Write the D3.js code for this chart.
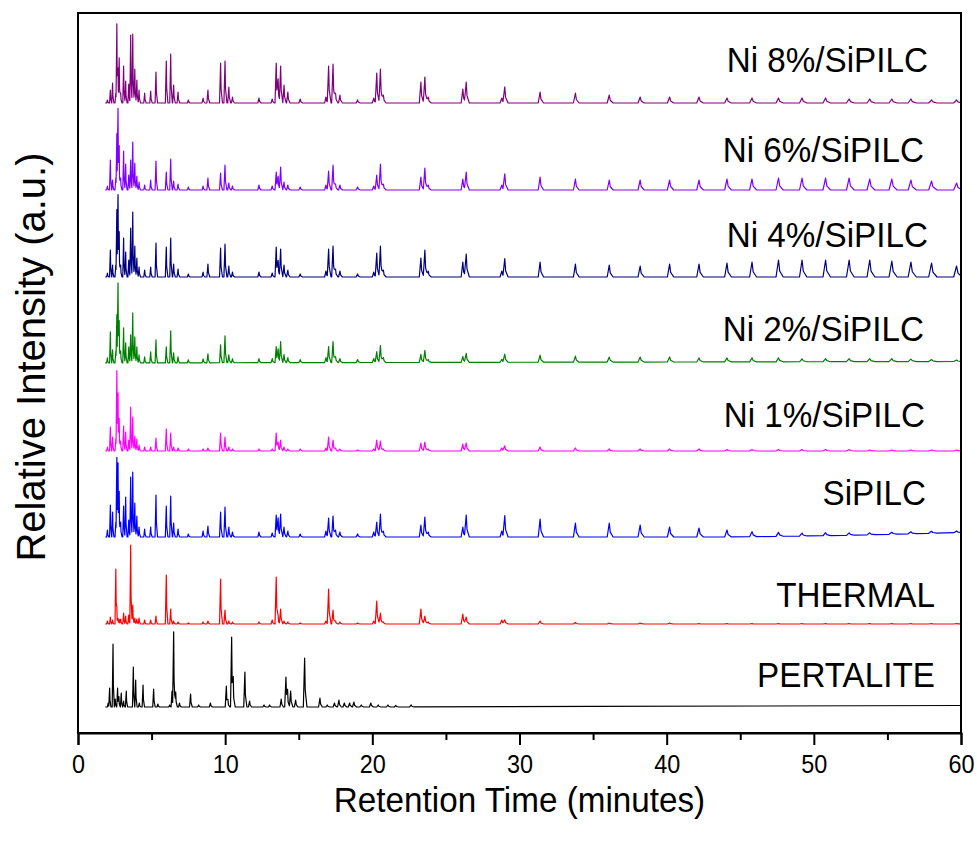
<!DOCTYPE html>
<html><head><meta charset="utf-8">
<script src="https://cdn.jsdelivr.net/npm/d3@7"></script>
<style>
html,body{margin:0;padding:0;background:#fff;}
text{font-family:"Liberation Sans",Arial,sans-serif;fill:#000;}
</style></head>
<body><svg id="chart" width="977" height="842"></svg>
<script>
// ---------- DATA ----------
const seriesNames = ["Ni 8%/SiPILC","Ni 6%/SiPILC","Ni 4%/SiPILC","Ni 2%/SiPILC","Ni 1%/SiPILC","SiPILC","THERMAL","PERTALITE"];
const seriesColors = ["#800080","#8000ff","#000080","#008000","#ff00ff","#0000ff","#ff0000","#000000"];
const seriesOffsets = [630, 543, 456, 370, 282, 196, 109, 26];

// shared peak retention times (minutes) for catalyst / thermal runs
const peakTimes = [2.0,2.2,2.35,2.57,2.64,2.72,2.8,2.9,3.1,3.24,3.45,3.58,3.72,3.86,4.0,4.15,4.53,4.94,5.3,6.0,6.3,6.5,6.8,7.5,8.5,8.83,9.69,9.99,10.25,10.5,12.3,13.2,13.47,13.6,13.77,14.0,14.26,15.1,16.85,17.03,17.33,17.5,17.8,19.0,20.1,20.3,20.55,20.75,23.3,23.57,23.8,26.15,26.38,28.8,29.0,31.4,33.8,36.1,38.2,40.2,42.2,44.1,45.8,47.6,49.2,50.8,52.4,53.8,55.3,56.6,58.0,59.7];

const ni8Heights  = [3,13,20,10,78,30,43,10,37,22,19,68,69,34,23,13,10,12,31,42,49,18,11,3,5,13,40,42,16,6,5,4,40,22,37,18,11,4,6,37,39,10,8,3,5,30,34,8,21,26,6,14,21,5,16,11,10,8,6,6,6,5,5,5,5,5,4,4,4,4,3,3];
const ni6Heights  = [4,30,10,12,55,78,39,12,39,26,15,30,48,27,14,8,5,10,29,18,31,9,6,3,4,12,17,25,7,4,5,4,18,13,23,8,5,3,5,19,25,6,5,3,4,15,26,6,13,22,5,11,18,5,16,13,11,10,10,10,10,11,11,12,12,12,12,11,11,10,9,7];
const ni4Heights  = [4,27,12,12,66,78,40,12,39,25,17,49,65,31,19,10,7,10,34,30,39,13,8,3,5,13,29,33,11,5,5,4,30,15,28,12,7,3,6,28,31,8,6,3,5,24,31,7,19,27,6,15,23,6,18,15,13,12,11,13,13,14,15,17,17,17,17,17,16,15,14,11];
const ni2Heights  = [5,31,13,12,47,77,37,12,35,20,16,28,50,26,16,8,6,11,23,16,32,10,6,3,4,9,18,27,8,4,4,4,16,13,21,8,5,3,5,16,21,6,4,3,4,11,17,5,8,12,3,6,9,3,8,7,6,5,5,5,4,4,4,4,3,3,3,3,3,2.5,2,1.5];
const ni1Heights  = [4,24,14,12,79,53,29,10,25,19,11,44,34,15,12,6,4,4,13,22,18,4,3,2,2,3,18,14,4,2,2,2,18,8,11,4,2,2,3,14,11,3,2,1,2,11,10,2,8,9,2,7,8,3,5,4,3,2,2,2,2,1.5,1.5,1.5,1.5,1.5,1.5,1,1,1,1,1];
const siHeights   = [7,32,25,15,78,69,41,15,31,40,17,60,65,34,21,10,8,10,42,31,41,14,8,3,6,11,25,30,10,5,5,4,22,18,23,10,6,3,6,19,21,7,5,3,5,15,23,6,12,20,5,10,22,6,21,18,14,14,12,10,9,7,5,4,3,3,2.5,2,2,2,2,1.5];
const thermalHeights = [3,7,4,55,11,5,4,5,11,8,9,79,19,6,5,6,4,4,8,49,15,3,2,1,2,3,45,14,3,2,2,4,47,6,15,3,2,1,3,35,14,3,2,1,3,23,11,2,15,8,2,10,7,4,4,3,1.5,1,1,1,0.5,0.5,0.5,0.5,0.5,0.5,0.5,0.5,0.5,0.5,0.5,0.5];

// PERTALITE (gasoline) has its own peaks
const pertTimes = [2.05,2.15,2.38,2.53,2.69,2.78,2.94,3.1,3.28,3.76,3.92,4.17,4.42,5.14,5.43,6.23,6.39,6.5,6.64,6.9,7.65,8.2,9.0,10.08,10.19,10.44,10.55,11.34,11.66,12.64,13.02,13.81,14.13,14.24,14.45,14.79,15.4,16.44,16.94,17.43,17.73,18.1,18.46,18.75,19.25,19.9,20.4,21.06,21.6,22.64];
const pertHeights = [4,19,63,8,19,10,14,6,16,40,27,4,22,18,3,2,16,75,15,4,13,2,4,21,6,70,25,35,6,2,2,8,30,14,16,7,49,9,2,4,7,4,4,5,2,4,2,2,1.5,2];

// baseline drift knots (time, intensity)
const siDriftTimes = [0,44,52,60];   const siDriftValues = [0,0,1.5,4.5];
const pertDriftTimes = [0,22,35,60]; const pertDriftValues = [0,0,0.6,1.5];
const ni2DriftTimes = [0,60];        const ni2DriftValues = [0,1.5];
const flatDriftTimes = [0,60];       const flatDriftValues = [0,0];

const xTicks = [0,10,20,30,40,50,60];
const xMinorTicks = [5,15,25,35,45,55];

// ---------- LAYOUT ----------
const svg = d3.select("#chart");
const L = 78, R = 961, T = 13, B = 733;
const x = d3.scaleLinear().domain([0,60]).range([L,R]);
const y = d3.scaleLinear().domain([0,720]).range([B,T]);

const seriesData = [
  {times: peakTimes, heights: ni8Heights, dT: flatDriftTimes, dV: flatDriftValues},
  {times: peakTimes, heights: ni6Heights, dT: flatDriftTimes, dV: flatDriftValues},
  {times: peakTimes, heights: ni4Heights, dT: flatDriftTimes, dV: flatDriftValues},
  {times: peakTimes, heights: ni2Heights, dT: ni2DriftTimes, dV: ni2DriftValues},
  {times: peakTimes, heights: ni1Heights, dT: flatDriftTimes, dV: flatDriftValues},
  {times: peakTimes, heights: siHeights, dT: siDriftTimes, dV: siDriftValues},
  {times: peakTimes, heights: thermalHeights, dT: flatDriftTimes, dV: flatDriftValues},
  {times: pertTimes, heights: pertHeights, dT: pertDriftTimes, dV: pertDriftValues}
];

// peak outline vertices (piecewise linear, slightly tailing)
function peakShape(t, h) {
  const wl = 0.05 + 0.0025 * t, wr = 0.08 + 0.005 * t;
  return [[t - wl, 0], [t, h], [t + wr * 0.25, h * 0.35], [t + wr, 0]];
}
function evalShape(shape, tt) {
  if (tt <= shape[0][0] || tt >= shape[shape.length-1][0]) return 0;
  for (let i = 0; i < shape.length - 1; i++) {
    const a = shape[i], b = shape[i+1];
    if (tt >= a[0] && tt <= b[0]) return a[1] + (b[1]-a[1]) * (tt - a[0]) / (b[0]-a[0]);
  }
  return 0;
}
function buildPoints(s) {
  const shapes = s.times.map((t,i) => peakShape(t, s.heights[i]));
  let verts = [1.85, 60];
  shapes.forEach(sh => sh.forEach(p => verts.push(p[0])));
  s.dT.forEach(t => verts.push(t));
  verts = Array.from(new Set(verts.filter(v => v >= 1.85 && v <= 60))).sort((a,b)=>a-b);
  const drift = d3.scaleLinear().domain(s.dT).range(s.dV);
  return verts.map(t => [t, drift(t) + d3.sum(shapes, sh => evalShape(sh, t))]);
}

const line = d3.line().x(d => x(d[0]));
seriesData.forEach((s, i) => {
  const pts = buildPoints(s);
  svg.append("path")
    .attr("d", line.y(d => y(seriesOffsets[i] + d[1]))(pts))
    .attr("fill", "none")
    .attr("stroke", seriesColors[i])
    .attr("stroke-width", 1.2)
    .attr("stroke-linejoin", "round");
});

// frame
svg.append("rect").attr("x", L).attr("y", T).attr("width", R-L).attr("height", B-T)
  .attr("fill","none").attr("stroke","#000").attr("stroke-width",2);

// x axis
const xAxis = d3.axisBottom(x).tickValues(xTicks).tickSize(12).tickPadding(10).tickFormat(d3.format("d"));
const gx = svg.append("g").attr("transform", `translate(0,${B})`).call(xAxis);
gx.select(".domain").attr("stroke-width", 2);
gx.selectAll(".tick line").attr("stroke-width", 2);
gx.selectAll(".tick text").attr("font-size", 26).attr("font-family", '"Liberation Sans",Arial,sans-serif')
  .attr("fill","#000").attr("transform","scale(0.9,1)");
const gm = svg.append("g").attr("transform", `translate(0,${B})`)
  .call(d3.axisBottom(x).tickValues(xMinorTicks).tickSize(7).tickFormat(""));
gm.select(".domain").remove();
gm.selectAll(".tick line").attr("stroke-width", 2);

// axis titles
svg.append("text").attr("transform", `translate(${(L+R)/2},812) scale(0.95,1)`)
  .attr("text-anchor","middle").attr("font-size",35).text("Retention Time (minutes)");
svg.append("text").attr("transform", `translate(45,357) rotate(-90)`)
  .attr("text-anchor","middle").attr("font-size",40).text("Relative Intensity (a.u.)");

// series labels
const labelRight = [928, 924, 928, 924, 925, 926, 935, 935];
const labelBase = [72, 162, 247, 341, 427, 505, 607, 687];
seriesNames.forEach((n, i) => {
  svg.append("text").attr("transform", `translate(${labelRight[i]},${labelBase[i]}) scale(0.95,1)`)
    .attr("text-anchor","end").attr("font-size",35).text(n);
});
</script></body></html>
